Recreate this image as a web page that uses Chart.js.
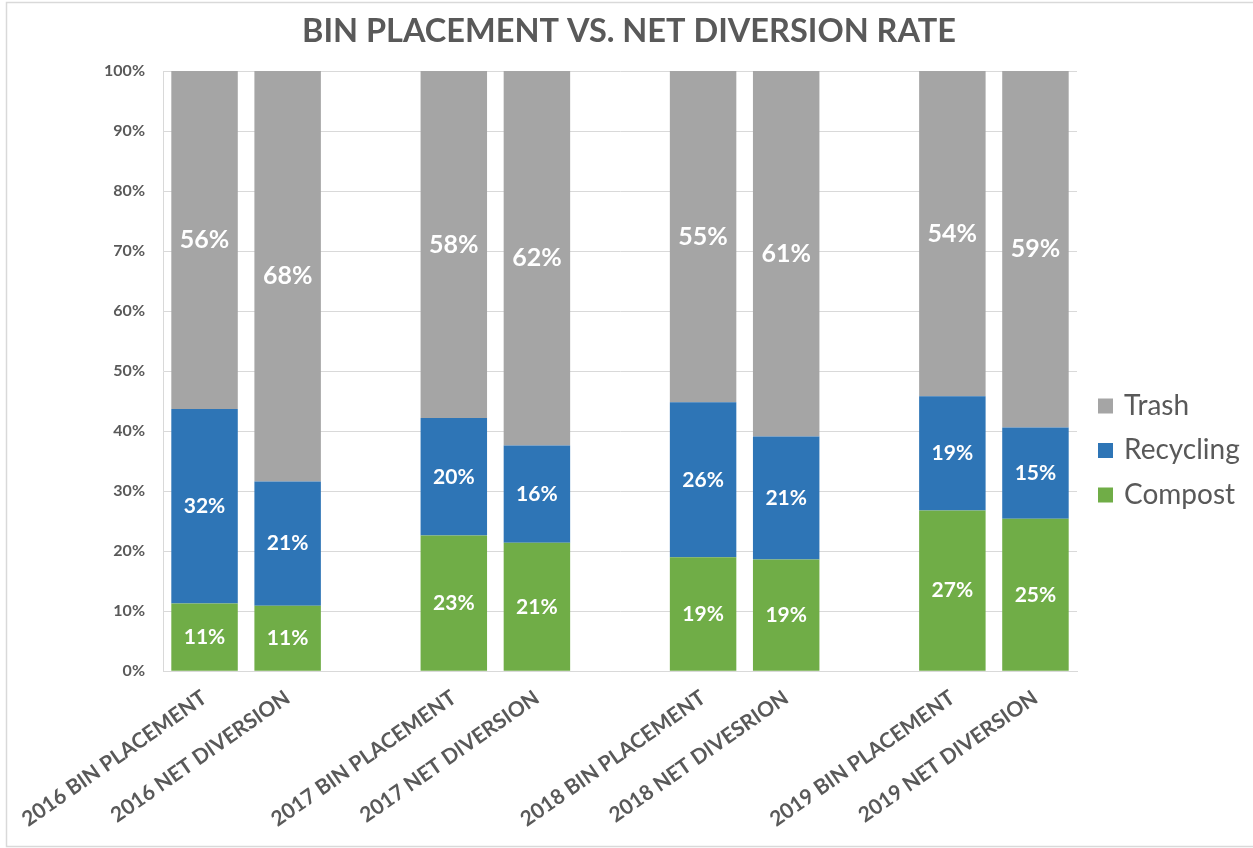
<!DOCTYPE html>
<html>
<head>
<meta charset="utf-8">
<script src="https://cdn.jsdelivr.net/npm/chart.js@4/dist/chart.umd.min.js"></script>
<style>
  html, body { margin: 0; padding: 0; background: #fff; }
  #wrap { width: 1253px; height: 848px; position: relative; }
</style>
</head>
<body>
<div id="wrap"><canvas id="c" width="1253" height="848"></canvas></div>
<script>
// ---- data ----
const categories = [
  '2016 BIN PLACEMENT', '2016 NET DIVERSION',
  '2017 BIN PLACEMENT', '2017 NET DIVERSION',
  '2018 BIN PLACEMENT', '2018 NET DIVESRION',
  '2019 BIN PLACEMENT', '2019 NET DIVERSION'
];
const compost   = [11.3, 10.9, 22.6, 21.4, 19.0, 18.6, 26.8, 25.4];
const recycling = [32.4, 20.7, 19.6, 16.2, 25.8, 20.5, 19.0, 15.2];
const trash     = [56.3, 68.4, 57.8, 62.4, 55.2, 60.9, 54.2, 59.4];
const yTicks = [0, 10, 20, 30, 40, 50, 60, 70, 80, 90, 100];

// insert an empty slot between each pair of bars
function padded(arr) {
  const out = [];
  arr.forEach((v, i) => {
    out.push(v);
    if (i % 2 === 1 && i < arr.length - 1) out.push(null);
  });
  return out;
}
const labels = padded(categories).map(v => v === null ? '' : v);

const FONT = 'Lato, "Open Sans", sans-serif';
const GREY_TXT = '#595959';

const borderPlugin = {
  id: 'outerBorder',
  beforeDraw(chart) {
    const ctx = chart.ctx;
    ctx.save();
    ctx.fillStyle = '#fff';
    ctx.fillRect(0, 0, chart.width, chart.height);
    ctx.strokeStyle = '#d9d9d9';
    ctx.lineWidth = 1.5;
    ctx.strokeRect(6.5, 2.5, chart.width + 10, chart.height - 4);
    ctx.restore();
  }
};

const valueLabels = {
  id: 'valueLabels',
  afterDatasetsDraw(chart) {
    const ctx = chart.ctx;
    ctx.save();
    ctx.fillStyle = '#ffffff';
    ctx.textAlign = 'center';
    ctx.textBaseline = 'middle';
    chart.data.datasets.forEach((ds, di) => {
      const meta = chart.getDatasetMeta(di);
      const size = ds.label === 'Trash' ? 25 : 21;
      ctx.font = 'bold ' + size + 'px ' + FONT;
      meta.data.forEach((bar, i) => {
        const v = ds.data[i];
        if (v === null || v === undefined) return;
        const y = (bar.y + bar.base) / 2;
        ctx.fillText(Math.round(v) + '%', bar.x, y);
      });
    });
    ctx.restore();
  }
};

// legend drawn to the right of the plot, Trash on top
const sideLegend = {
  id: 'sideLegend',
  afterDraw(chart) {
    const ctx = chart.ctx;
    const area = chart.chartArea;
    const items = chart.data.datasets.slice().reverse();
    const x0 = area.right + 21;
    const rowH = 44.5;
    const yMid = 450;
    ctx.save();
    ctx.font = '28px ' + FONT;
    ctx.textBaseline = 'middle';
    ctx.textAlign = 'left';
    items.forEach((ds, i) => {
      const y = yMid + (i - (items.length - 1) / 2) * rowH;
      ctx.fillStyle = ds.backgroundColor;
      ctx.fillRect(x0, y - 7, 15, 15);
      ctx.fillStyle = GREY_TXT;
      ctx.fillText(ds.label, x0 + 26, y);
    });
    ctx.restore();
  }
};

new Chart(document.getElementById('c'), {
  type: 'bar',
  data: {
    labels: labels,
    datasets: [
      { label: 'Compost', data: padded(compost), backgroundColor: '#70ad47' },
      { label: 'Recycling', data: padded(recycling), backgroundColor: '#2e75b6' },
      { label: 'Trash', data: padded(trash), backgroundColor: '#a5a5a5' }
    ]
  },
  options: {
    responsive: false,
    animation: false,
    devicePixelRatio: 1,
    layout: { padding: { left: 5, right: 0, top: 8, bottom: 2 } },
    datasets: { bar: { barPercentage: 0.8, categoryPercentage: 1.0 } },
    plugins: {
      title: {
        display: true,
        text: 'BIN PLACEMENT VS. NET DIVERSION RATE',
        color: GREY_TXT,
        font: { family: FONT, size: 32.5, weight: 'bold' },
        padding: { top: 4, bottom: 20 }
      },
      legend: { display: false },
      tooltip: { enabled: false }
    },
    scales: {
      x: {
        stacked: true,
        afterFit(axis) { axis.paddingLeft = Math.min(axis.paddingLeft, 150); },
        grid: { display: false, drawTicks: false },
        border: { display: true, color: '#d9d9d9' },
        ticks: {
          color: GREY_TXT,
          font: { family: FONT, size: 21, weight: 'bold' },
          minRotation: 35,
          maxRotation: 35,
          autoSkip: false,
          padding: 14
        }
      },
      y: {
        stacked: true,
        min: 0,
        max: 100,
        afterBuildTicks(axis) { axis.ticks = yTicks.map(v => ({ value: v })); },
        afterFit(axis) { axis.width = 158; },
        grid: { color: '#d9d9d9', drawTicks: false },
        border: { display: true, color: '#d9d9d9' },
        ticks: {
          color: GREY_TXT,
          font: { family: FONT, size: 16, weight: 'bold' },
          padding: 18,
          callback: v => v + '%'
        }
      },
      legendSpace: {
        type: 'linear',
        position: 'right',
        display: true,
        min: 0,
        max: 1,
        afterFit(axis) { axis.width = 176; },
        grid: { display: false, drawTicks: false },
        border: { display: false },
        ticks: { display: false }
      }
    }
  },
  plugins: [borderPlugin, valueLabels, sideLegend]
});
</script>
</body>
</html>
